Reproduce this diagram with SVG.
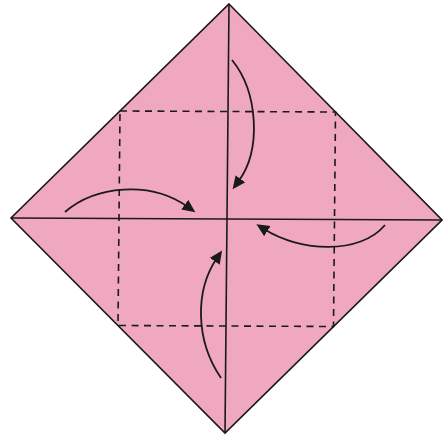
<svg xmlns="http://www.w3.org/2000/svg" width="443" height="438" viewBox="0 0 443 438">
<style>
.paper{fill:#F0A8C0;stroke:#1a1a1a;stroke-width:1.6;stroke-linejoin:miter}
.crease{fill:none;stroke:#1a1a1a;stroke-width:1.6}
.dash{fill:none;stroke:#1a1a1a;stroke-width:1.6;stroke-dasharray:7 5.5}
.arrow{fill:none;stroke:#1a1a1a;stroke-width:1.8;marker-end:url(#ah)}
</style>
<defs>
<marker id="ah" markerUnits="userSpaceOnUse" markerWidth="16" markerHeight="16" refX="4" refY="6" orient="auto">
<path d="M0,0 L13,6 L0,12 Z" fill="#1a1a1a"/>
</marker>
</defs>
<rect width="443" height="438" fill="#ffffff"/>
<g id="paper">
<polygon class="paper" points="229,4 442,220 225,433 11,218"/>
</g>
<g id="creases">
<line class="crease" x1="229" y1="4" x2="225" y2="433"/>
<line class="crease" x1="11" y1="218" x2="442" y2="220"/>
<polygon class="dash" points="120,111 335.5,112 333.5,326.5 118,325.5"/>
</g>
<g id="arrows">
<path class="arrow" d="M232,60 C258,92 262,150 238,182"/>
<path class="arrow" d="M65,212 C95,186 150,180 188,207"/>
<path class="arrow" d="M385,225 C360,255 300,252 264,229"/>
<path class="arrow" d="M221,378 C195,340 195,290 217,258"/>
</g>
</svg>
